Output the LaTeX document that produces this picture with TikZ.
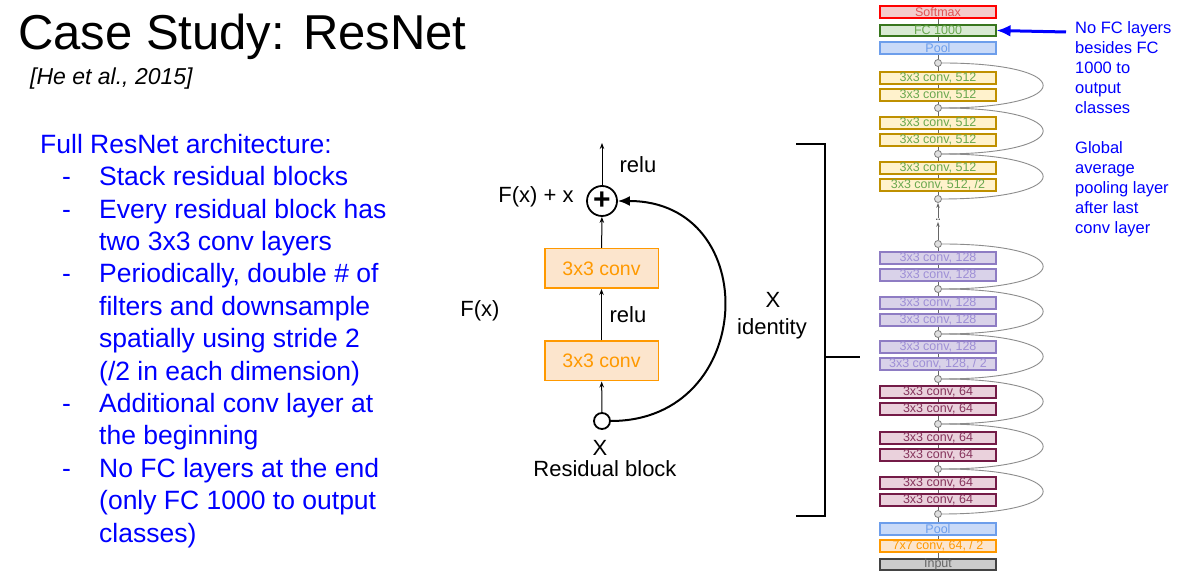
\documentclass[tikz,border=0pt]{standalone}
\usepackage{fontspec}
\setmainfont{Liberation Sans}
\usetikzlibrary{positioning,arrows.meta,backgrounds}

\newcommand\fsz[2]{\fontsize{#1}{#2}\selectfont}
\newcommand\bul{\makebox[59pt][l]{\hspace{22pt}-}}
\newcommand\ind{\hspace*{59pt}}

\definecolor{slideblue}{HTML}{0000FF}
\definecolor{smxline}{HTML}{FF0000}
\definecolor{smxfill}{HTML}{F4CCCC}
\definecolor{smxtext}{HTML}{E05555}
\definecolor{fcline}{HTML}{38761D}
\definecolor{fcfill}{HTML}{D9EAD3}
\definecolor{fctext}{HTML}{6AA84F}
\definecolor{poolline}{HTML}{6D9EEB}
\definecolor{poolfill}{HTML}{C9DAF8}
\definecolor{yelline}{HTML}{BF9000}
\definecolor{yelfill}{HTML}{FFF2CC}
\definecolor{purline}{HTML}{8E7CC3}
\definecolor{purfill}{HTML}{D9D2E9}
\definecolor{purtext}{HTML}{9E8FD6}
\definecolor{magline}{HTML}{741B47}
\definecolor{magfill}{HTML}{EAD1DC}
\definecolor{magtext}{HTML}{86345C}
\definecolor{orgline}{HTML}{FF9900}
\definecolor{orgfill}{HTML}{FCE5CD}
\definecolor{inpline}{HTML}{434343}
\definecolor{inpfill}{HTML}{CCCCCC}
\definecolor{inptext}{HTML}{666666}

\tikzset{
  layer/.style={draw, line width=1.6pt, minimum width=115.5pt, minimum height=11.5pt,
    inner sep=0pt, font=\fsz{12.5}{12.5}},
  lsoft/.style={layer, draw=smxline, fill=smxfill, text=smxtext},
  lfc/.style={layer, draw=fcline, fill=fcfill, text=fctext},
  lpool/.style={layer, draw=poolline, fill=poolfill, text=poolline},
  l512/.style={layer, draw=yelline, fill=yelfill, text=fctext},
  l128/.style={layer, draw=purline, fill=purfill, text=purtext},
  l64/.style={layer, draw=magline, fill=magfill, text=magtext},
  l7/.style={layer, draw=orgline, fill=orgfill, text=orgline},
  linput/.style={layer, draw=inpline, fill=inpfill, text=inptext},
  joint/.style={circle, draw=black!50, fill=black!12, line width=0.8pt,
    minimum size=7pt, inner sep=0pt},
  spine/.style={draw=black!60, line width=0.8pt},
  skip/.style={draw=black!45, line width=0.9pt},
  convbox/.style={draw=orgline, fill=orgfill, line width=1.5pt, minimum width=113.5pt,
    minimum height=39.5pt, text=orgline, font=\fsz{19.5}{20}},
  lbl/.style={font=\fsz{22}{24}, inner sep=0pt},
  thinarr/.style={line width=1pt, -{Stealth[length=6pt,width=4.5pt]}},
  ident/.style={line width=2pt, -{Latex[length=12pt,width=10pt]}},
  bluetxt/.style={text=slideblue, align=left, inner sep=0pt},
  bluearr/.style={draw=slideblue, line width=3pt, -{Latex[length=14pt,width=12pt]}},
  brk/.style={line width=2.5pt}
}

\begin{document}
\begin{tikzpicture}[x=1pt,y=1pt]
  \useasboundingbox (0,0) rectangle (1179,578);
  \begin{pgfonlayer}{background}
    \fill[white] (0,0) rectangle (1179,578);
  \end{pgfonlayer}

  % Title
  \node[anchor=base west, inner sep=0pt, font=\fsz{49}{50}] (title) at (18,528) {Case Study: ResNet};
  \node[anchor=base west, inner sep=0pt, font=\fsz{23}{24}\itshape] (cite) at (30,493) {[He et al., 2015]};

  % Left text
  \node[bluetxt, anchor=north west, font=\fsz{26.5}{32.4}] (arch) at (40,444) {Full ResNet architecture:\\
    \bul Stack residual blocks\\
    \bul Every residual block has\\
    \ind two 3x3 conv layers\\
    \bul Periodically, double \# of\\
    \ind filters and downsample\\
    \ind spatially using stride 2\\
    \ind (/2 in each dimension)\\
    \bul Additional conv layer at\\
    \ind the beginning\\
    \bul No FC layers at the end\\
    \ind (only FC 1000 to output\\
    \ind classes)};

  % Residual block
  \node[circle, draw, line width=1.8pt, minimum size=30pt, inner sep=0pt, font=\fsz{30}{30}\bfseries] (plus) at (602,377) {+};
  \node[convbox] (conva) at (601.5,309.5) {3x3 conv};
  \node[convbox] (convb) at (601.5,217) {3x3 conv};
  \node[circle, draw, line width=1.8pt, minimum size=16pt, inner sep=0pt] (xin) at (602,157) {};
  \coordinate (out) at (602,435);
  \draw[thinarr] (xin) -- (convb);
  \draw[thinarr] (convb) -- (conva);
  \draw[thinarr] (conva) -- (plus);
  \draw[thinarr] (plus) -- (out);
  \draw[ident] (xin.east) .. controls +(146,0) and +(146,0) .. (plus.east);

  \node[lbl, anchor=base] (relutop) at (638,405) {relu};
  \node[lbl, anchor=base] (fxx) at (536,375) {F(x) + x};
  \node[lbl, anchor=base] (relumid) at (628,255) {relu};
  \node[lbl, anchor=base] (fx) at (480,261) {F(x)};
  \node[lbl, anchor=base] (xlab) at (600,122) {X};
  \node[lbl, anchor=base] (rblock) at (605,101) {Residual block};
  \node[lbl, anchor=base] (xid) at (773,270) {X};
  \node[lbl, anchor=base] (idlab) at (772,243) {identity};

  % Bracket
  \draw[brk] (796,434) -- (825,434) -- (825,62) -- (796,62);
  \draw[brk] (825,221) -- (860,221);

  % Layer stack
  \node[lsoft] (soft) at (938,566) {Softmax};
  \node[lfc] (fc) at (938,547.5) {FC 1000};
  \node[lpool] (pooltop) at (938,530) {Pool};
  \foreach \y [count=\i] in {500,483,455,438,410}
    \node[l512] (a\i) at (938,\y) {3x3 conv, 512};
  \node[l512] (a6) at (938,393) {3x3 conv, 512, /2};
  \foreach \y [count=\i] in {320,303,275,258,231}
    \node[l128] (b\i) at (938,\y) {3x3 conv, 128};
  \node[l128] (b6) at (938,214) {3x3 conv, 128, / 2};
  \foreach \y [count=\i] in {186,169,140,123,95,78}
    \node[l64] (c\i) at (938,\y) {3x3 conv, 64};
  \node[lpool] (poolbot) at (938,49) {Pool};
  \node[l7] (conv7) at (938,32) {7x7 conv, 64, / 2};
  \node[linput] (inp) at (938,13.5) {Input};

  \foreach \y [count=\i] in {515,470,424,379,334,289,244,199,154,109,64}
    \node[joint] (j\i) at (938,\y) {};
  \node[inner sep=1pt, font=\fsz{9}{9}\bfseries, text=black!70] (gap) at (938,358) {..};

  \begin{pgfonlayer}{background}
    \draw[spine] (inp) -- (j5);
    \draw[spine] (j4) -- (soft);
  \end{pgfonlayer}
  \draw[spine, -{Stealth[length=5pt,width=3.5pt]}] (j5) -- (gap);
  \draw[spine, -{Stealth[length=5pt,width=3.5pt]}] (gap) -- (j4);

  \foreach \a/\b in {1/2,2/3,3/4,5/6,6/7,7/8,8/9,9/10,10/11}
    \draw[skip] (j\a.east) .. controls +(135,0) and +(135,0) .. (j\b.east);

  % Notes
  \node[bluetxt, anchor=north west, font=\fsz{16.5}{20}] (note) at (1075,557) {No FC layers\\
    besides FC\\
    1000 to\\
    output\\
    classes\\[20pt]
    Global\\
    average\\
    pooling layer\\
    after last\\
    conv layer};
  \coordinate (noteend) at (1066,546);
  \draw[bluearr] (noteend) -- (fc.east);
\end{tikzpicture}
\end{document}
